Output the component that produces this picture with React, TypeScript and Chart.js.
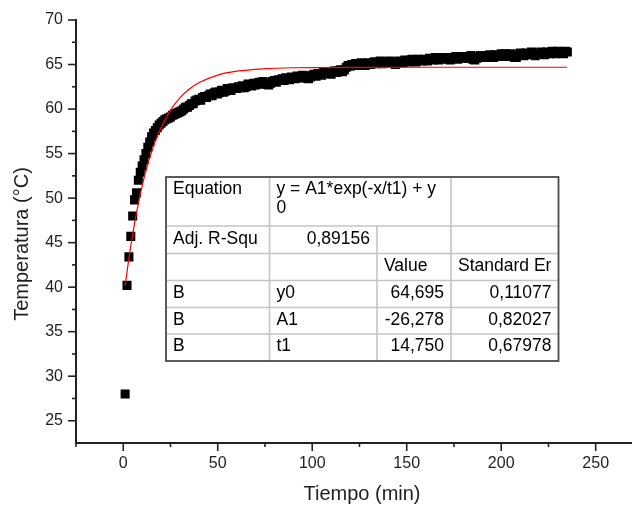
import React, { useEffect, useRef } from 'react';
import { Chart, registerables } from 'chart.js';

Chart.register(...registerables);

const timeMin = [
  1, 2, 3, 4, 5, 6, 7, 8, 9, 10, 11, 12, 13, 14, 15, 16, 17, 18, 19, 20,
  21, 22, 23, 24, 25, 26, 27, 28, 29, 30, 31, 32, 33, 34, 35, 36, 37, 38, 39, 40,
  41, 42, 43, 44, 45, 46, 47, 48, 49, 50, 51, 52, 53, 54, 55, 56, 57, 58, 59, 60,
  61, 62, 63, 64, 65, 66, 67, 68, 69, 70, 71, 72, 73, 74, 75, 76, 77, 78, 79, 80,
  81, 82, 83, 84, 85, 86, 87, 88, 89, 90, 91, 92, 93, 94, 95, 96, 97, 98, 99, 100,
  101, 102, 103, 104, 105, 106, 107, 108, 109, 110, 111, 112, 113, 114, 115, 116, 117, 118, 119, 120,
  121, 122, 123, 124, 125, 126, 127, 128, 129, 130, 131, 132, 133, 134, 135, 136, 137, 138, 139, 140,
  141, 142, 143, 144, 145, 146, 147, 148, 149, 150, 151, 152, 153, 154, 155, 156, 157, 158, 159, 160,
  161, 162, 163, 164, 165, 166, 167, 168, 169, 170, 171, 172, 173, 174, 175, 176, 177, 178, 179, 180,
  181, 182, 183, 184, 185, 186, 187, 188, 189, 190, 191, 192, 193, 194, 195, 196, 197, 198, 199, 200,
  201, 202, 203, 204, 205, 206, 207, 208, 209, 210, 211, 212, 213, 214, 215, 216, 217, 218, 219, 220,
  221, 222, 223, 224, 225, 226, 227, 228, 229, 230, 231, 232, 233, 234, 235,
];

const temperature = [
  28.0, 40.2, 43.4, 45.7, 48.0, 49.8, 50.6, 52.0, 52.9, 53.6,
  54.3, 55.0, 55.7, 56.3, 56.9, 57.3, 57.6, 57.9, 58.2, 58.4,
  58.6, 58.8, 58.9, 59.0, 59.1, 59.3, 59.4, 59.5, 59.6, 59.7,
  59.8, 60.0, 60.2, 60.2, 60.4, 60.6, 60.6, 60.9, 61.0, 61.1,
  61.0, 61.3, 61.4, 61.3, 61.5, 61.7, 61.5, 61.8, 61.9, 61.7,
  61.9, 62.1, 61.9, 62.0, 62.3, 62.2, 62.1, 62.4, 62.3, 62.3,
  62.5, 62.4, 62.6, 62.4, 62.5, 62.8, 62.7, 62.6, 62.9, 62.7,
  62.9, 63.0, 62.8, 63.1, 62.9, 62.8, 62.7, 62.9, 63.1, 63.2,
  63.0, 63.3, 63.2, 63.4, 63.2, 63.5, 63.4, 63.3, 63.6, 63.5,
  63.4, 63.7, 63.6, 63.5, 63.8, 63.7, 63.5, 63.4, 63.6, 63.8,
  63.9, 63.7, 64.0, 63.9, 63.8, 64.1, 64.0, 64.2, 64.1, 63.9,
  64.2, 64.3, 64.1, 64.3, 64.4, 64.2, 64.4, 64.7, 64.9, 64.8,
  65.0, 64.9, 65.1, 64.9, 65.0, 65.2, 65.0, 64.9, 65.1, 65.2,
  65.0, 65.2, 65.3, 65.1, 65.2, 65.4, 65.1, 65.3, 65.2, 65.3,
  65.4, 65.2, 65.3, 65.0, 65.2, 65.4, 65.3, 65.2, 65.5, 65.4,
  65.3, 65.5, 65.6, 65.4, 65.3, 65.6, 65.5, 65.4, 65.6, 65.5,
  65.4, 65.7, 65.6, 65.5, 65.8, 65.6, 65.5, 65.8, 65.7, 65.6,
  65.8, 65.7, 65.5, 65.8, 65.7, 65.9, 65.6, 65.8, 65.9, 65.7,
  65.9, 65.7, 65.8, 66.0, 65.6, 65.5, 65.7, 65.9, 66.0, 65.8,
  66.0, 65.8, 65.9, 66.1, 66.0, 65.8, 66.1, 66.0, 65.9, 66.2,
  66.0, 66.2, 65.9, 66.1, 66.2, 66.0, 65.8, 65.8, 66.1, 66.3,
  66.1, 66.0, 66.3, 66.2, 66.1, 66.4, 66.2, 66.0, 66.3, 66.2,
  66.4, 66.2, 66.1, 66.4, 66.3, 66.2, 66.5, 66.3, 66.2, 66.5,
  66.3, 66.4, 66.2, 66.5, 66.4,
];

// fitted curve (y = A1*exp(-x/t1) + y0)
const fitTime = [1, 2, 3, 4, 6, 8, 10, 12, 15, 18, 22, 26, 30, 35, 40, 50, 60, 75, 90, 120, 160, 235];
const fitTemp = [40.14, 41.75, 43.25, 44.66, 47.2, 49.42, 51.36, 53.05, 55.19, 56.94, 58.78, 60.19, 61.26, 62.25, 62.95, 63.81, 64.25, 64.53, 64.64, 64.69, 64.695, 64.695];

const xTickValues = [0, 50, 100, 150, 200, 250];
const xMinorTickValues = [-25, 25, 75, 125, 175, 225];
const yTickValues = [25, 30, 35, 40, 45, 50, 55, 60, 65, 70];
const yMinorTickValues = [27.5, 32.5, 37.5, 42.5, 47.5, 52.5, 57.5, 62.5, 67.5];

const xTitle = 'Tiempo (min)';
const yTitle = 'Temperatura (°C)';

const tableRow0 = ['Equation', 'y = A1*exp(-x/t1) + y', '0'];
const tableRow1 = ['Adj. R-Squ', '0,89156'];
const tableHeader = ['', '', 'Value', 'Standard Er'];
const paramGroups = ['B', 'B', 'B'];
const paramNames = ['y0', 'A1', 't1'];
const paramValues = ['64,695', '-26,278', '14,750'];
const paramErrors = ['0,11077', '0,82027', '0,67978'];

const FONT = '"Liberation Sans", Arial, Helvetica, sans-serif';

const axisTicksPlugin = {
  id: 'axisTicks',
  afterDraw(chart: any) {
    const { ctx, chartArea } = chart;
    const xs = chart.scales.x;
    const ys = chart.scales.y;
    ctx.save();
    ctx.strokeStyle = '#222';
    ctx.lineWidth = 1.6;
    const bottom = chartArea.bottom;
    const left = chartArea.left;
    const xt = (v: number, len: number) => {
      const px = xs.getPixelForValue(v);
      ctx.beginPath();
      ctx.moveTo(px, bottom);
      ctx.lineTo(px, bottom + len);
      ctx.stroke();
    };
    const yt = (v: number, len: number) => {
      const py = ys.getPixelForValue(v);
      ctx.beginPath();
      ctx.moveTo(left, py);
      ctx.lineTo(left - len, py);
      ctx.stroke();
    };
    xTickValues.forEach((v) => xt(v, 8));
    xMinorTickValues.forEach((v) => xt(v, 4));
    yTickValues.forEach((v) => yt(v, 8));
    yMinorTickValues.forEach((v) => yt(v, 4));

    // axis titles
    ctx.fillStyle = '#1e1e1e';
    ctx.font = `20px ${FONT}`;
    ctx.textAlign = 'center';
    ctx.textBaseline = 'alphabetic';
    ctx.fillText(xTitle, 362, 500);
    ctx.save();
    ctx.translate(28, 244);
    ctx.rotate(-Math.PI / 2);
    ctx.fillText(yTitle, 0, 0);
    ctx.restore();
    ctx.restore();
  },
};

const tablePlugin = {
  id: 'fitTable',
  afterDatasetsDraw(chart: any) {
    const ctx = chart.ctx;
    const colX = [166, 269.5, 377, 451, 558.5];
    const rowY = [177, 226, 253.5, 280.5, 307.5, 334, 361];
    const L = colX[0];
    const R = colX[4];
    const T = rowY[0];
    const B = rowY[6];
    ctx.save();
    ctx.fillStyle = '#ffffff';
    ctx.fillRect(L, T, R - L, B - T);

    ctx.strokeStyle = '#c4c4c4';
    ctx.lineWidth = 1.6;
    const line = (x1: number, y1: number, x2: number, y2: number) => {
      ctx.beginPath();
      ctx.moveTo(x1, y1);
      ctx.lineTo(x2, y2);
      ctx.stroke();
    };
    for (let i = 1; i < rowY.length - 1; i++) line(L, rowY[i], R, rowY[i]);
    line(colX[1], T, colX[1], B);
    line(colX[2], rowY[1], colX[2], B);
    line(colX[3], T, colX[3], B);

    ctx.strokeStyle = '#4a4a4a';
    ctx.lineWidth = 1.8;
    ctx.strokeRect(L, T, R - L, B - T);

    ctx.fillStyle = '#000';
    ctx.font = `17.5px ${FONT}`;
    ctx.textBaseline = 'middle';
    const padL = 7;
    const padR = 7;
    const cellText = (text: string, col: number, row: number, right: boolean) => {
      const y = (rowY[row] + rowY[row + 1]) / 2 - 1;
      if (right) {
        ctx.textAlign = 'right';
        ctx.fillText(text, colX[col + 1] - padR, y);
      } else {
        ctx.textAlign = 'left';
        ctx.fillText(text, colX[col] + padL, y);
      }
    };
    ctx.textAlign = 'left';
    ctx.fillText(tableRow0[0], colX[0] + padL, T + 12);
    ctx.fillText(tableRow0[1], colX[1] + padL, T + 12);
    ctx.fillText(tableRow0[2], colX[1] + padL, T + 31);

    cellText(tableRow1[0], 0, 1, false);
    cellText(tableRow1[1], 1, 1, true);

    cellText(tableHeader[2], 2, 2, false);
    cellText(tableHeader[3], 3, 2, false);

    for (let i = 0; i < paramNames.length; i++) {
      cellText(paramGroups[i], 0, 3 + i, false);
      cellText(paramNames[i], 1, 3 + i, false);
      cellText(paramValues[i], 2, 3 + i, true);
      cellText(paramErrors[i], 3, 3 + i, true);
    }
    ctx.restore();
  },
};

export default function App() {
  const canvasRef = useRef<HTMLCanvasElement | null>(null);

  useEffect(() => {
    document.body.style.margin = '0';
    const canvas = canvasRef.current;
    if (!canvas) return;

    const chart = new Chart(canvas, {
      type: 'scatter',
      data: {
        datasets: [
          {
            label: 'Fit',
            data: fitTime.map((x, i) => ({ x, y: fitTemp[i] })),
            showLine: true,
            borderColor: '#ff0000',
            backgroundColor: '#ff0000',
            borderWidth: 1.2,
            pointRadius: 0,
            cubicInterpolationMode: 'monotone',
          } as any,
          {
            label: 'B',
            data: timeMin.map((x, i) => ({ x, y: temperature[i] })),
            pointStyle: 'rect',
            pointRadius: 6.4,
            backgroundColor: '#000000',
            borderColor: '#000000',
            borderWidth: 0,
            showLine: false,
          } as any,
        ],
      },
      options: {
        responsive: false,
        animation: false,
        events: [],
        layout: { padding: { top: 20, right: 0, bottom: 0, left: 0 } },
        plugins: {
          legend: { display: false },
          tooltip: { enabled: false },
        },
        scales: {
          x: {
            type: 'linear',
            min: -25,
            max: 269,
            grid: { display: false },
            border: { display: true, color: '#222', width: 2 },
            afterBuildTicks: (s: any) => {
              s.ticks = xTickValues.map((v) => ({ value: v }));
            },
            afterFit: (s: any) => {
              s.height = 64;
            },
            ticks: {
              padding: 3,
              color: '#1e1e1e',
              font: { family: FONT, size: 16 },
              maxRotation: 0,
              autoSkip: false,
            },
            title: { display: false },
          },
          y: {
            type: 'linear',
            min: 22.5,
            max: 70,
            grid: { display: false },
            border: { display: true, color: '#222', width: 2 },
            afterBuildTicks: (s: any) => {
              s.ticks = yTickValues.map((v) => ({ value: v }));
            },
            afterFit: (s: any) => {
              s.width = 76;
            },
            ticks: {
              padding: 5,
              color: '#1e1e1e',
              font: { family: FONT, size: 16 },
              autoSkip: false,
            },
            title: { display: false },
          },
        },
      } as any,
      plugins: [axisTicksPlugin, tablePlugin],
    });

    return () => {
      chart.destroy();
    };
  }, []);

  return (
    <div style={{ width: 638, height: 507, background: '#fff', overflow: 'hidden' }}>
      <canvas ref={canvasRef} width={638} height={507} style={{ display: 'block' }} />
    </div>
  );
}
